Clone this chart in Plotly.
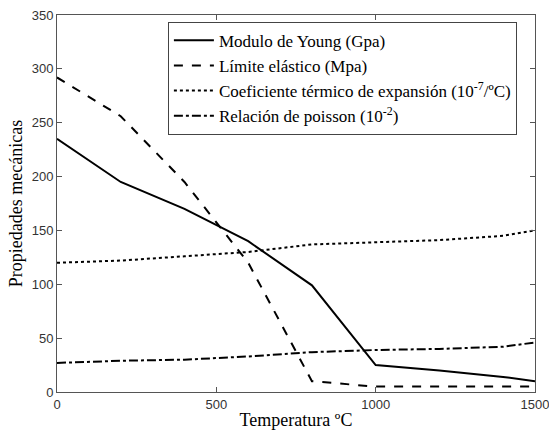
import plotly.graph_objects as go

temps = [0, 200, 400, 600, 800, 1000, 1200, 1400, 1500]
young = [235, 195, 170, 140, 99, 25, 20, 14, 10]
limite = [292, 256, 195, 120, 10, 5, 5, 5, 5]
coef = [120, 122, 126, 130, 137, 139, 141, 145, 150]
poisson = [27, 29, 30, 33, 37, 39, 40, 42, 46]

names = ["Modulo de Young (Gpa)",
         "Límite elástico (Mpa)",
         "Coeficiente térmico de expansión (10<sup>-7</sup>/ºC)",
         "Relación de poisson (10<sup>-2</sup>)"]
series = [young, limite, coef, poisson]
dashes = ["solid", "dash", "dot", "dashdot"]
xticks = [0, 500, 1000, 1500]
yticks = [0, 50, 100, 150, 200, 250, 300, 350]

serif = "Liberation Serif, Times New Roman, serif"
fig = go.Figure()
for n, s, d in zip(names, series, dashes):
    fig.add_trace(go.Scatter(x=temps, y=s, mode="lines", name=n,
                             line=dict(color="black", width=2, dash=d)))

axis_common = dict(showline=True, linecolor="#555555", linewidth=1, mirror="ticks",
                   ticks="inside", ticklen=5, tickcolor="#555555", showgrid=False,
                   zeroline=False, ticklabeloverflow="allow", automargin=False,
                   tickfont=dict(family="Liberation Sans, Arial", size=13, color="#333333"))
fig.update_xaxes(range=[0, 1500], tickvals=xticks,
                 title=dict(text="Temperatura ºC", font=dict(family=serif, size=18, color="black"), standoff=2),
                 **axis_common)
fig.update_yaxes(range=[0, 350], tickvals=yticks,
                 title=dict(text="Propiedades mecánicas", font=dict(family=serif, size=18, color="black"), standoff=4),
                 **axis_common)
fig.update_layout(width=549, height=431, plot_bgcolor="white", paper_bgcolor="white",
                  margin=dict(l=57, r=14, t=15, b=39),
                  legend=dict(x=0.232, y=0.982, xanchor="left", yanchor="top",
                              bordercolor="#444444", borderwidth=1, bgcolor="white",
                              font=dict(family=serif, size=17, color="black"),
                              tracegroupgap=0, itemwidth=40))
fig.write_html("out.html")
